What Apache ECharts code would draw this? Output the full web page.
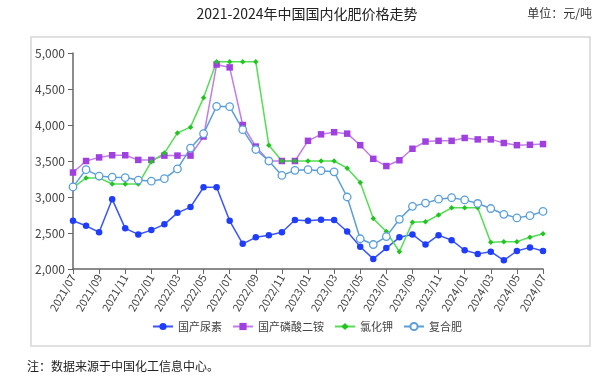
<!DOCTYPE html>
<html><head><meta charset="utf-8">
<script src="https://cdn.jsdelivr.net/npm/echarts@6/dist/echarts.min.js"></script>
<style>html,body{margin:0;padding:0;background:#fff;}#c{width:614px;height:382px;}</style>
</head><body><div id="c"></div>
<script>
const months = ['2021/07','2021/08','2021/09','2021/10','2021/11','2021/12',
'2022/01','2022/02','2022/03','2022/04','2022/05','2022/06','2022/07','2022/08','2022/09','2022/10','2022/11','2022/12',
'2023/01','2023/02','2023/03','2023/04','2023/05','2023/06','2023/07','2023/08','2023/09','2023/10','2023/11','2023/12',
'2024/01','2024/02','2024/03','2024/04','2024/05','2024/06','2024/07'];
const urea = [2670,2600,2510,2970,2565,2480,2540,2620,2780,2860,3135,3135,2670,2350,2440,2470,2510,2680,
2670,2685,2680,2520,2310,2140,2290,2440,2480,2340,2470,2400,2260,2210,2240,2120,2250,2300,2250];
const dap = [3340,3500,3550,3580,3580,3515,3515,3575,3575,3575,3840,4840,4800,4000,3700,3500,3500,3500,
3780,3870,3900,3880,3720,3530,3430,3510,3670,3770,3780,3780,3820,3800,3800,3750,3720,3725,3735];
const kcl = [3130,3265,3265,3180,3180,3180,3490,3610,3890,3970,4380,4880,4880,4880,4880,3720,3500,3500,
3500,3500,3500,3400,3200,2700,2520,2240,2650,2655,2750,2850,2850,2850,2370,2380,2380,2440,2490];
const compound = [3140,3380,3290,3275,3270,3235,3220,3255,3390,3680,3880,4260,4255,3935,3660,3500,3300,3370,
3380,3365,3350,3000,2420,2340,2450,2690,2870,2915,2970,2990,2960,2910,2840,2760,2710,2740,2800];
const names = ['国产尿素','国产磷酸二铵','氯化钾','复合肥'];

const chart = echarts.init(document.getElementById('c'));
const font = '"Noto Sans CJK SC", "Noto Sans", sans-serif';
chart.setOption({
  animation:false,
  textStyle:{fontFamily:font},
  graphic:[
    {type:'rect',shape:{x:31,y:37,width:559,height:309},style:{fill:'none',stroke:'#d6d6d6',lineWidth:1.5},z:-1},
    {type:'text',left:'center',top:7,style:{text:'2021-2024年中国国内化肥价格走势',font:'14px '+font,fill:'#222'}},
    {type:'text',right:22,top:7,style:{text:'单位：元/吨',font:'12px '+font,fill:'#333'}},
    {type:'text',left:27,top:360,style:{text:'注：数据来源于中国化工信息中心。',font:'12px '+font,fill:'#222'}}
  ],
  grid:{left:73,right:71,top:53,bottom:113},
  legend:{bottom:45,left:'center',itemWidth:20,itemHeight:9,itemGap:10,
    textStyle:{fontSize:11,color:'#444',fontFamily:font},
    data:names},
  xAxis:{type:'category',data:months,boundaryGap:false,
    axisLine:{lineStyle:{color:'#666',width:1.5}},
    axisTick:{show:true,interval:1,lineStyle:{color:'#666'}},
    axisLabel:{interval:1,rotate:60,fontSize:11,color:'#444',margin:6}},
  yAxis:{type:'value',min:2000,max:5000,interval:500,splitLine:{show:false},
    axisLine:{show:true,lineStyle:{color:'#666',width:1.5}},
    axisTick:{show:true,lineStyle:{color:'#666'}},
    axisLabel:{fontSize:12,color:'#444',formatter:v=>v.toLocaleString('en-US')}},
  series:[
    {name:names[0],type:'line',data:urea,symbol:'circle',symbolSize:6.5,
      itemStyle:{color:'#1f3dff'},lineStyle:{color:'#3a55ff',width:1.5}},
    {name:names[1],type:'line',data:dap,symbol:'rect',symbolSize:6.5,
      itemStyle:{color:'#a040e0'},lineStyle:{color:'#c07ee6',width:1.5}},
    {name:names[2],type:'line',data:kcl,symbol:'diamond',symbolSize:5.5,
      itemStyle:{color:'#22c322'},lineStyle:{color:'#55dd55',width:1.5}},
    {name:names[3],type:'line',data:compound,symbol:'circle',symbolSize:7.5,
      itemStyle:{color:'#fff',borderColor:'#5b9fd8',borderWidth:1.3},lineStyle:{color:'#5b9fd8',width:1.5}}
  ]
});
</script></body></html>
